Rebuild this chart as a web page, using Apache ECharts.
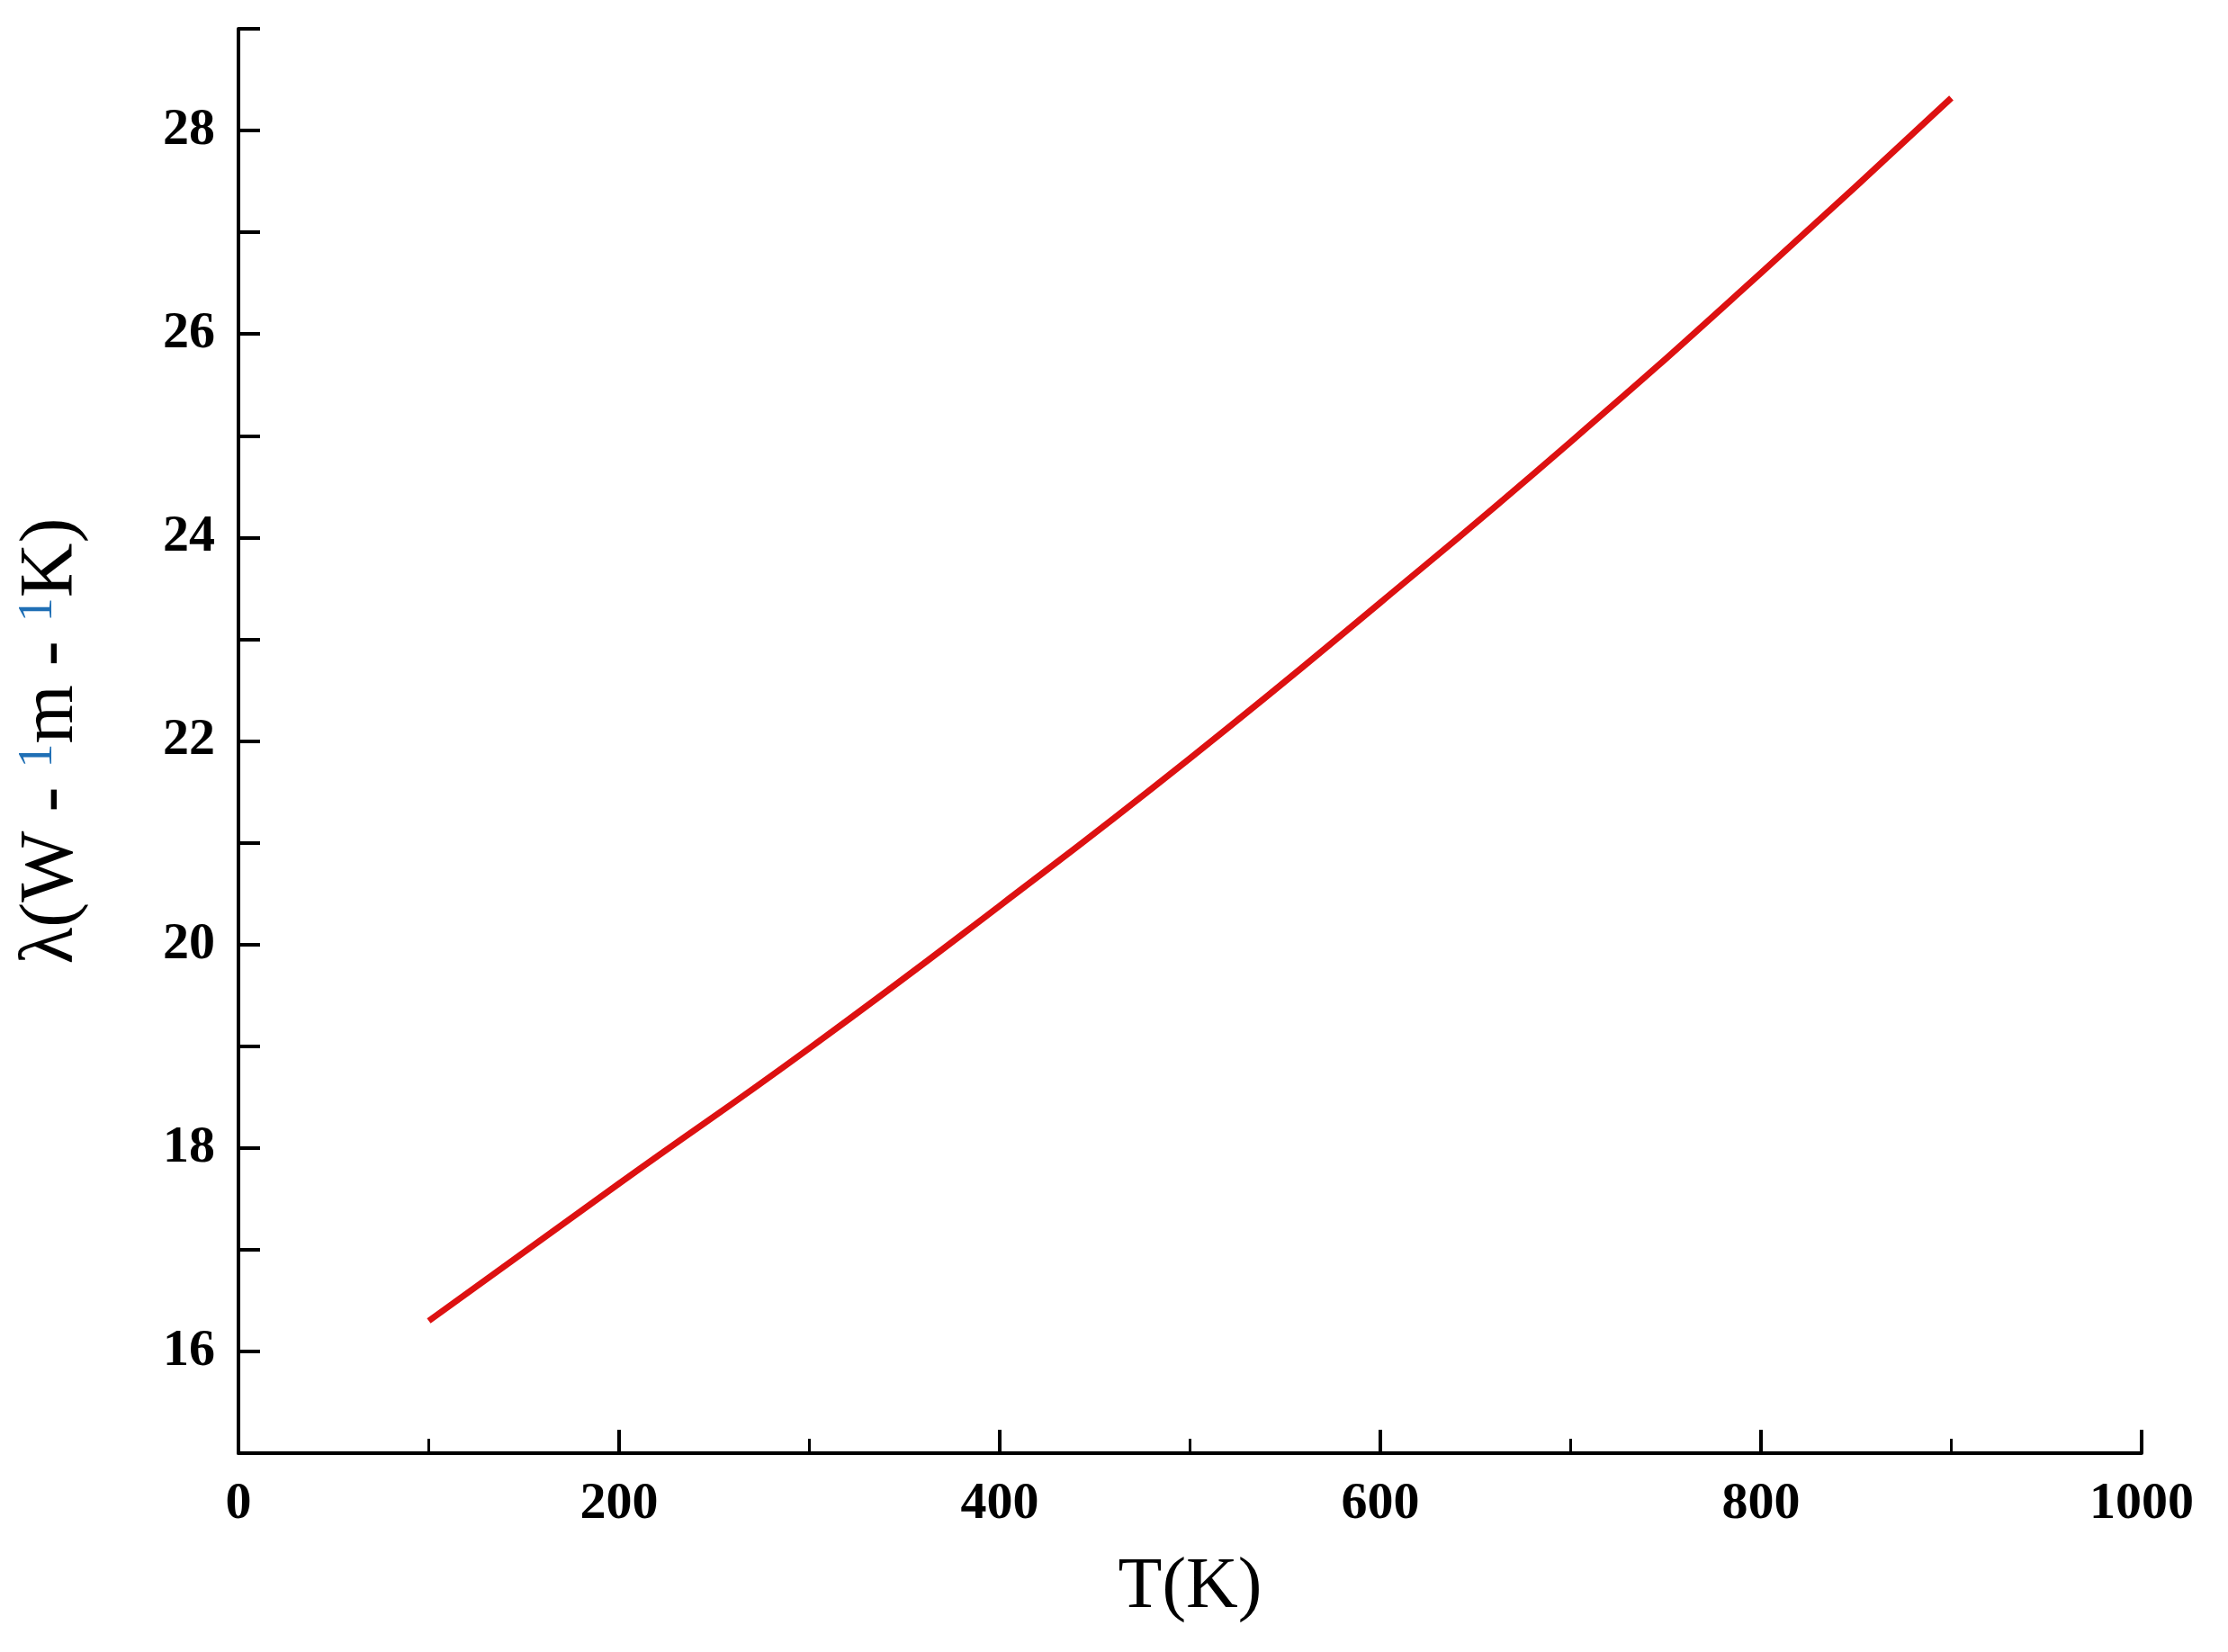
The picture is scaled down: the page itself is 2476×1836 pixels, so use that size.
<!DOCTYPE html>
<html><head><meta charset="utf-8">
<script src="https://cdn.jsdelivr.net/npm/echarts@6/dist/echarts.min.js"></script>
<style>html,body{margin:0;padding:0;background:#fff}#c{width:2476px;height:1836px}</style>
</head><body><div id="c"></div>
<script>
const temps = [100, 200, 300, 400, 500, 600, 700, 800, 900];
const lambdaVals = [16.3, 17.65, 18.98, 20.38, 21.83, 23.36, 24.94, 26.6, 28.32];
const xTicks = [0, 200, 400, 600, 800, 1000];
const yLabels = [16, 18, 20, 22, 24, 26, 28];
const chart = echarts.init(document.getElementById('c'));
const serif = 'Liberation Serif';
chart.setOption({
  animation: false,
  grid: {left: 265, right: 96, top: 32, bottom: 221},
  xAxis: {
    type: 'value', min: 0, max: 1000, interval: 200,
    name: 'T(K)', nameLocation: 'middle', nameGap: 110,
    nameTextStyle: {fontFamily: serif, fontSize: 80, color: '#000'},
    axisLine: {lineStyle: {color: '#000', width: 4}},
    axisTick: {inside: true, length: 26, lineStyle: {color: '#000', width: 4}},
    minorTick: {show: true, splitNumber: 2, length: 16, lineStyle: {color: '#000', width: 3}},
    splitLine: {show: false},
    axisLabel: {fontFamily: serif, fontWeight: 'bold', fontSize: 58, color: '#000', margin: 28,
      formatter: v => xTicks.includes(v) ? String(v) : ''}
  },
  yAxis: {
    type: 'value', min: 15, max: 29, interval: 1,
    name: '{a|λ(W - }{b|1}{a|m - }{b|1}{a|K)}', nameLocation: 'middle', nameGap: 165, nameRotate: 90,
    nameTextStyle: {rich: {
      a: {fontFamily: serif, fontSize: 84, color: '#000'},
      b: {fontFamily: serif, fontSize: 54, color: '#1f6fb5', verticalAlign: 'top', padding: [0,0,26,0]}
    }},
    axisLine: {show: true, lineStyle: {color: '#000', width: 4}},
    axisTick: {inside: true, length: 24, lineStyle: {color: '#000', width: 4}},
    splitLine: {show: false},
    axisLabel: {fontFamily: serif, fontWeight: 'bold', fontSize: 58, color: '#000', margin: 26,
      formatter: v => yLabels.includes(v) ? String(v) : ''}
  },
  series: [{
    type: 'line', smooth: true, symbol: 'none',
    data: temps.map((t, i) => [t, lambdaVals[i]]),
    lineStyle: {color: '#dd1111', width: 7}
  }]
});
</script></body></html>
